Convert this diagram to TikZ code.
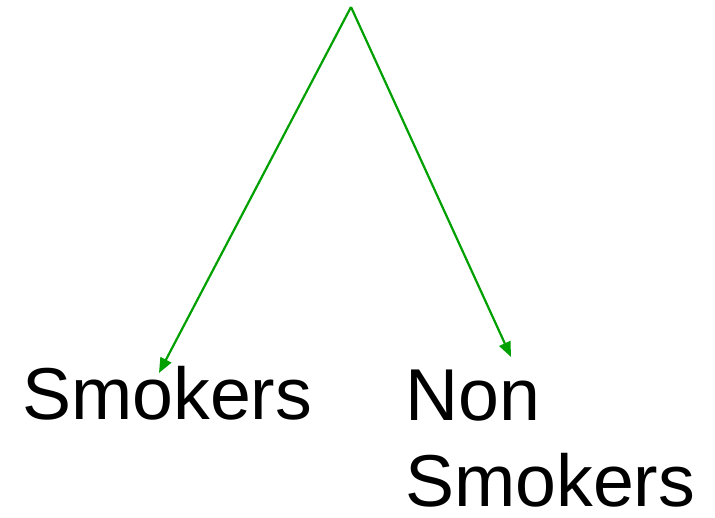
\documentclass[tikz,border=0pt]{standalone}
\usepackage{fontspec}
\setmainfont{Liberation Sans}
\usepackage{tikz}
\usetikzlibrary{arrows.meta,positioning}
\definecolor{arrgreen}{HTML}{00A000}

\begin{document}
\begin{tikzpicture}[x=1pt,y=1pt,
  lbl/.style={inner sep=0pt,align=left,font=\fontsize{73.5}{86}\selectfont},
  branch/.style={draw=arrgreen,line width=2.2pt,-{Triangle[length=15pt,width=12pt]}}]
\useasboundingbox (0,0) rectangle (715,517);
\coordinate (top) at (351,510);
\node[lbl,anchor=base west] (smk) at (22,97) {Smokers};
\node[lbl,anchor=base west] (nonsmk) at (405,11) {Non\\Smokers};
\coordinate (smktip) at (159,144);
\coordinate (nonsmktip) at (511,160);
\draw[branch] (top) -- (smktip);
\draw[branch] (top) -- (nonsmktip);
\end{tikzpicture}
\end{document}
